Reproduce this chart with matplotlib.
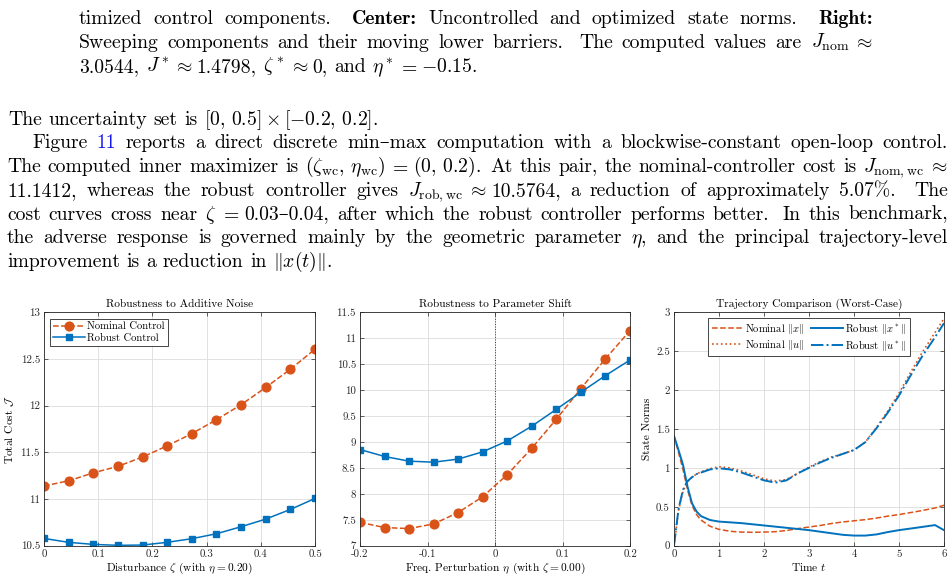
import matplotlib
matplotlib.use('Agg')
import numpy as np
import matplotlib.pyplot as plt
from matplotlib.ticker import FormatStrFormatter, MultipleLocator

plt.rcParams['font.family'] = ['cmr10', 'DejaVu Serif']
plt.rcParams['mathtext.fontset'] = 'cm'
plt.rcParams['axes.unicode_minus'] = False

ORANGE = '#D95319'
BLUE = '#0072BD'

# panel 1: additive noise sweep
zeta = [0.0, 0.0455, 0.0909, 0.1364, 0.1818, 0.2273, 0.2727, 0.3182, 0.3636, 0.4091, 0.4545, 0.5]
cost_nom_zeta = [11.14, 11.195, 11.28, 11.35, 11.45, 11.57, 11.70, 11.85, 12.01, 12.195, 12.39, 12.605]
cost_rob_zeta = [10.578, 10.536, 10.514, 10.504, 10.507, 10.536, 10.575, 10.628, 10.703, 10.785, 10.888, 11.006]

# panel 2: parameter shift sweep
eta = [-0.2, -0.1636, -0.1273, -0.0909, -0.0545, -0.0182, 0.0182, 0.0545, 0.0909, 0.1273, 0.1636, 0.2]
cost_nom_eta = [7.45, 7.35, 7.33, 7.42, 7.64, 7.945, 8.37, 8.88, 9.44, 10.03, 10.605, 11.146]
cost_rob_eta = [8.854, 8.72, 8.63, 8.61, 8.67, 8.81, 9.02, 9.305, 9.63, 9.96, 10.28, 10.58]

# panel 3: worst-case trajectories
t = [0, 0.1, 0.2, 0.3, 0.4, 0.5, 0.6, 0.8, 1.0, 1.25, 1.5, 1.75, 2.0, 2.25, 2.5, 2.75,
     3.0, 3.25, 3.5, 3.75, 4.0, 4.25, 4.5, 4.75, 5.0, 5.25, 5.5, 5.8, 6.0]
x_nom = [1.41, 1.2, 0.98, 0.72, 0.52, 0.40, 0.33, 0.25, 0.21, 0.185, 0.175, 0.172, 0.175, 0.18,
         0.195, 0.22, 0.24, 0.26, 0.285, 0.305, 0.32, 0.335, 0.355, 0.38, 0.40, 0.425, 0.45, 0.485, 0.52]
u_nom = [0.0, 0.45, 0.70, 0.82, 0.88, 0.92, 0.95, 0.99, 1.015, 1.0, 0.96, 0.91, 0.86, 0.83,
         0.85, 0.93, 1.01, 1.08, 1.14, 1.18, 1.23, 1.33, 1.52, 1.73, 1.96, 2.22, 2.47, 2.74, 2.92]
x_rob = [1.41, 1.23, 1.04, 0.76, 0.545, 0.44, 0.38, 0.33, 0.31, 0.30, 0.29, 0.275, 0.26, 0.245,
         0.23, 0.215, 0.20, 0.18, 0.16, 0.14, 0.13, 0.13, 0.145, 0.175, 0.20, 0.22, 0.24, 0.265, 0.20]
u_rob = [0.0, 0.47, 0.72, 0.83, 0.88, 0.92, 0.94, 0.98, 0.995, 0.98, 0.94, 0.89, 0.84, 0.81,
         0.84, 0.93, 1.00, 1.07, 1.13, 1.18, 1.23, 1.33, 1.51, 1.71, 1.93, 2.18, 2.42, 2.68, 2.86]

# ' ' = stretchable space, '~' = fixed math space
caption_lines = [
    "timized control components. **Center:** Uncontrolled and optimized state norms. **Right:**",
    r"Sweeping components and their moving lower barriers. The computed values are $J_{\mathrm{nom}}$~$\approx$",
    r"3.0544, $J^*$~$\approx$~1.4798, $\zeta^*$~$\approx$~0, and $\eta^*$~$=$~$-0.15$.",
]
body_lines = [
    r"The uncertainty set is $[0,\,0.5]$~$\times$~$[-0.2,\,0.2]$.",
    "Figure ##11 reports a direct discrete min–max computation with a blockwise-constant open-loop control.",
    r"The computed inner maximizer is $(\zeta_{\mathrm{wc}},\,\eta_{\mathrm{wc}})$~$=$~$(0,\,0.2)$. At this pair, the nominal-controller cost is $J_{\mathrm{nom,wc}}$~$\approx$",
    r"11.1412, whereas the robust controller gives $J_{\mathrm{rob,wc}}$~$\approx$~10.5764, a reduction of approximately 5.07%. The",
    r"cost curves cross near $\zeta$~$=$~0.03–0.04, after which the robust controller performs better. In this benchmark,",
    r"the adverse response is governed mainly by the geometric parameter $\eta$, and the principal trajectory-level",
    r"improvement is a reduction in $\Vert x(t)\Vert$.",
]

W, H = 953, 582
fig = plt.figure(figsize=(W / 100, H / 100), dpi=100)
renderer = fig.canvas.get_renderer()
FS = 14.2
EM = FS * 100 / 72


def split_words(line):
    words, seps, cur, inmath = [], [], '', False
    for ch in line:
        if ch == '$':
            inmath = not inmath
        if ch in ' ~' and not inmath:
            words.append(cur)
            seps.append(ch)
            cur = ''
        else:
            cur += ch
    words.append(cur)
    return words, seps


def put_line(line, x0, x1, ybase, justify):
    words, seps = split_words(line)
    objs, widths = [], []
    for tok in words:
        kw = {}
        if tok.startswith('**'):
            tok = tok[2:-2]
            kw['family'] = ['cmb10', 'DejaVu Serif']
        elif tok.startswith('##'):
            tok = tok[2:]
            kw['color'] = '#1414f0'
        txt = fig.text(0, 1 - ybase / H, tok, fontsize=FS, va='baseline', ha='left', **kw)
        objs.append(txt)
        widths.append(txt.get_window_extent(renderer).width)
    gaps, stretch = [], []
    for tok, sep in zip(words[:-1], seps):
        if sep == '~':
            gaps.append(0.2 * EM)
            stretch.append(0.0)
        elif tok.endswith('.') or tok.endswith(':'):
            gaps.append(0.444 * EM)
            stretch.append(3.0)
        else:
            gaps.append(0.333 * EM)
            stretch.append(1.0)
    if justify and sum(stretch) > 0:
        slack = x1 - x0 - sum(widths) - sum(gaps)
        tot = sum(stretch)
        gaps = [g + slack * s / tot for g, s in zip(gaps, stretch)]
    x = x0
    for i, (txt, w) in enumerate(zip(objs, widths)):
        txt.set_x(x / W)
        if i < len(gaps):
            x += w + gaps[i]


for i, ln in enumerate(caption_lines):
    put_line(ln, 79, 873, 24 + 24 * i, i < 2)
put_line(body_lines[0], 8, 948, 125, False)
put_line(body_lines[1], 32, 948, 148, True)
for i, ln in enumerate(body_lines[2:]):
    put_line(ln, 7, 948, 172 + 23.8 * i, i < 4)


def style(ax):
    ax.tick_params(direction='in', top=True, right=True, length=3, width=0.5,
                   labelsize=7.8, colors='#262626', pad=3)
    for sp in ax.spines.values():
        sp.set_linewidth(0.6)
        sp.set_color('#262626')
    ax.grid(True, color='#dcdcdc', linewidth=0.6)
    ax.set_axisbelow(True)


LFS = 8.2
bottom = 1 - 545.7 / H
height = (545.7 - 312.3) / H
ax1 = fig.add_axes([44 / W, bottom, 271 / W, height])
ax2 = fig.add_axes([360 / W, bottom, 270 / W, height])
ax3 = fig.add_axes([674 / W, bottom, 270 / W, height])

ax1.plot(zeta, cost_nom_zeta, '--o', color=ORANGE, lw=1.1, ms=6.3, label='Nominal Control')
ax1.plot(zeta, cost_rob_zeta, '-s', color=BLUE, lw=1.1, ms=4.3, label='Robust Control')
ax1.set_xlim(0, 0.5)
ax1.set_ylim(10.5, 13)
ax1.yaxis.set_major_locator(MultipleLocator(0.5))
ax1.xaxis.set_major_locator(MultipleLocator(0.1))
ax1.set_title('Robustness to Additive Noise', fontsize=LFS, pad=4)
ax1.set_xlabel(r'Disturbance $\zeta$ (with $\eta = 0.20$)', fontsize=LFS, labelpad=1)
ax1.set_ylabel(r'Total Cost $\mathcal{J}$', fontsize=LFS, labelpad=3)
leg1 = ax1.legend(loc='upper left', fontsize=7.6, handlelength=3, fancybox=False,
                  edgecolor='#262626', framealpha=1, borderpad=0.3, labelspacing=0.2,
                  handletextpad=0.2, borderaxespad=0.6)
leg1.get_frame().set_linewidth(0.6)

ax2.axvline(0, color='#333333', ls=':', lw=0.7)
ax2.plot(eta, cost_nom_eta, '--o', color=ORANGE, lw=1.1, ms=6.3)
ax2.plot(eta, cost_rob_eta, '-s', color=BLUE, lw=1.1, ms=4.3)
ax2.set_xlim(-0.2, 0.2)
ax2.set_ylim(7, 11.5)
ax2.yaxis.set_major_locator(MultipleLocator(0.5))
ax2.xaxis.set_major_locator(MultipleLocator(0.1))
ax2.set_title('Robustness to Parameter Shift', fontsize=LFS, pad=4)
ax2.set_xlabel(r'Freq. Perturbation $\eta$ (with $\zeta = 0.00$)', fontsize=LFS, labelpad=1)

ax3.plot(t, x_nom, '--', color=ORANGE, lw=1.1, label=r'Nominal $\Vert x\Vert$')
ax3.plot(t, u_nom, ':', color=ORANGE, lw=1.2, label=r'Nominal $\Vert u\Vert$')
ax3.plot(t, x_rob, '-', color=BLUE, lw=1.4, label=r'Robust $\Vert x^*\Vert$')
ax3.plot(t, u_rob, '-.', color=BLUE, lw=1.4, label=r'Robust $\Vert u^*\Vert$')
ax3.set_xlim(0, 6)
ax3.set_ylim(0, 3)
ax3.yaxis.set_major_locator(MultipleLocator(0.5))
ax3.xaxis.set_major_locator(MultipleLocator(1))
ax3.set_title('Trajectory Comparison (Worst-Case)', fontsize=LFS, pad=4)
ax3.set_xlabel(r'Time $t$', fontsize=LFS, labelpad=1)
ax3.set_ylabel('State Norms', fontsize=LFS, labelpad=3)
leg3 = ax3.legend(loc='upper center', ncol=2, fontsize=7.6, handlelength=3, fancybox=False,
                  edgecolor='#262626', framealpha=1, borderpad=0.3, labelspacing=0.2,
                  handletextpad=0.2, columnspacing=0.6, borderaxespad=0.5)
leg3.get_frame().set_linewidth(0.6)

for ax in (ax1, ax2, ax3):
    style(ax)
    ax.xaxis.set_major_formatter(FormatStrFormatter('%g'))
    ax.yaxis.set_major_formatter(FormatStrFormatter('%g'))

fig.savefig('out.png', dpi=100)
